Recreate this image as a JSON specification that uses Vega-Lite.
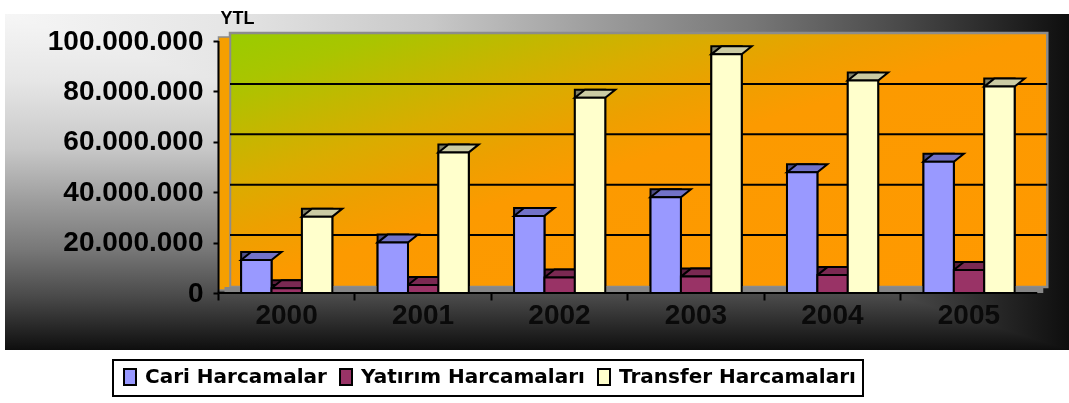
{
  "$schema": "https://vega.github.io/schema/vega-lite/v6.json",
  "width": 1064,
  "height": 336,
  "autosize": {"type": "none"},
  "padding": {"left": 5, "top": 14, "right": 0, "bottom": 53},
  "background": "white",
  "config": {
    "view": {"stroke": null},
    "locale": {"number": {"decimal": ",", "thousands": ".", "grouping": [3], "currency": ["", ""]}},
    "axis": {"zindex": 1},
    "legend": {"strokeWidth": 2}
  },
  "data": {
    "values": [
      {"year": "2000", "series": "Cari Harcamalar", "value": 13100000},
      {"year": "2000", "series": "Yatırım Harcamaları", "value": 1900000},
      {"year": "2000", "series": "Transfer Harcamaları", "value": 30300000},
      {"year": "2001", "series": "Cari Harcamalar", "value": 20000000},
      {"year": "2001", "series": "Yatırım Harcamaları", "value": 3200000},
      {"year": "2001", "series": "Transfer Harcamaları", "value": 55800000},
      {"year": "2002", "series": "Cari Harcamalar", "value": 30600000},
      {"year": "2002", "series": "Yatırım Harcamaları", "value": 6200000},
      {"year": "2002", "series": "Transfer Harcamaları", "value": 77500000},
      {"year": "2003", "series": "Cari Harcamalar", "value": 38000000},
      {"year": "2003", "series": "Yatırım Harcamaları", "value": 6500000},
      {"year": "2003", "series": "Transfer Harcamaları", "value": 94700000},
      {"year": "2004", "series": "Cari Harcamalar", "value": 47900000},
      {"year": "2004", "series": "Yatırım Harcamaları", "value": 7100000},
      {"year": "2004", "series": "Transfer Harcamaları", "value": 84300000},
      {"year": "2005", "series": "Cari Harcamalar", "value": 52100000},
      {"year": "2005", "series": "Yatırım Harcamaları", "value": 9100000},
      {"year": "2005", "series": "Transfer Harcamaları", "value": 81900000}
    ]
  },
  "layer": [
    {
      "data": {"values": [{}]},
      "mark": {"type": "rect", "fill": {"gradient": "linear", "x1": 0, "y1": 0, "x2": 1, "y2": 0, "stops": [
        {"offset": 0, "color": "#f6f6f6"}, {"offset": 0.2, "color": "#e6e6e6"}, {"offset": 0.4, "color": "#c8c8c8"},
        {"offset": 0.56, "color": "#9c9c9c"}, {"offset": 0.7, "color": "#787878"}, {"offset": 0.84, "color": "#4a4a4a"},
        {"offset": 1, "color": "#0e0e0e"}]}},
      "encoding": {"x": {"value": 0}, "x2": {"value": "width"}, "y": {"value": 0}, "y2": {"value": "height"}}
    },
    {
      "data": {"values": [{}]},
      "mark": {"type": "rect", "blend": "darken", "fill": {"gradient": "linear", "x1": 0, "y1": 0, "x2": 0, "y2": 1, "stops": [
        {"offset": 0, "color": "#f6f6f6"}, {"offset": 0.2, "color": "#e6e6e6"}, {"offset": 0.4, "color": "#c8c8c8"},
        {"offset": 0.56, "color": "#9c9c9c"}, {"offset": 0.7, "color": "#787878"}, {"offset": 0.84, "color": "#4a4a4a"},
        {"offset": 1, "color": "#0e0e0e"}]}},
      "encoding": {"x": {"value": 0}, "x2": {"value": "width"}, "y": {"value": 0}, "y2": {"value": "height"}}
    },
    {
      "data": {"values": [{}]},
      "mark": {"type": "rect", "stroke": "#8c8c8c", "strokeWidth": 2.5,
        "xOffset": -2.35, "x2Offset": 23.85, "yOffset": -8, "y2Offset": -6,
        "fill": {"gradient": "linear", "x1": 0, "y1": 0, "x2": 1, "y2": 1, "stops": [
          {"offset": 0, "color": "#99cc00"}, {"offset": 0.1, "color": "#a9c500"}, {"offset": 0.2, "color": "#c2b800"},
          {"offset": 0.3, "color": "#daac00"}, {"offset": 0.4, "color": "#eda000"}, {"offset": 0.5, "color": "#fc9a00"},
          {"offset": 1, "color": "#ff9900"}]}},
      "encoding": {
        "x": {"datum": "2000", "bandPosition": 0},
        "x2": {"datum": "2005", "bandPosition": 1},
        "y": {"datum": 100000000, "type": "quantitative"},
        "y2": {"datum": 0}
      }
    },
    {
      "data": {"values": [{}]},
      "mark": {"type": "rect", "fill": "#f59f00", "stroke": "#8c8c8c", "strokeWidth": 1.5,
        "xOffset": -13.85, "x2Offset": -2.35, "yOffset": -4, "y2Offset": -3},
      "encoding": {
        "x": {"datum": "2000", "bandPosition": 0},
        "x2": {"datum": "2000", "bandPosition": 0},
        "y": {"datum": 100000000, "type": "quantitative"},
        "y2": {"datum": 0}
      }
    },
    {
      "data": {"values": [{"v": 20000000}, {"v": 40000000}, {"v": 60000000}, {"v": 80000000}]},
      "mark": {"type": "rule", "stroke": "black", "strokeWidth": 2, "xOffset": -2.35, "x2Offset": 23.85, "yOffset": -7.5},
      "encoding": {
        "x": {"datum": "2000", "bandPosition": 0},
        "x2": {"datum": "2005", "bandPosition": 1},
        "y": {"field": "v", "type": "quantitative"}
      }
    },
    {
      "data": {"values": [{}]},
      "mark": {"type": "rect", "fill": "#878787", "xOffset": -7.85, "x2Offset": 19.85, "yOffset": -6},
      "encoding": {
        "x": {"datum": "2000", "bandPosition": 0},
        "x2": {"datum": "2005", "bandPosition": 1},
        "y": {"datum": 0, "type": "quantitative"},
        "y2": {"datum": 0}
      }
    },
    {
      "data": {"values": [{}]},
      "mark": {"type": "rule", "stroke": "black", "strokeWidth": 2, "xOffset": -13.85, "x2Offset": 13.85},
      "encoding": {
        "x": {"datum": "2000", "bandPosition": 0},
        "x2": {"datum": "2005", "bandPosition": 1},
        "y": {"datum": 0, "type": "quantitative"}
      }
    },
    {
      "data": {"values": [{}]},
      "mark": {"type": "rule", "stroke": "black", "strokeWidth": 2, "xOffset": -13.85},
      "encoding": {
        "x": {"datum": "2000", "bandPosition": 0},
        "y": {"datum": 0, "type": "quantitative"},
        "y2": {"datum": 100000000}
      }
    },
    {
      "mark": {"type": "bar", "stroke": "black", "strokeWidth": 2, "xOffset": 10, "yOffset": -8, "y2Offset": -8},
      "encoding": {
        "x": {"field": "year", "type": "nominal"},
        "xOffset": {"field": "series", "type": "nominal", "sort": ["Cari Harcamalar", "Yatırım Harcamaları", "Transfer Harcamaları"]},
        "y": {"field": "value", "type": "quantitative"},
        "color": {"field": "series", "type": "nominal", "legend": null,
          "scale": {"domain": ["Cari Harcamalar", "Yatırım Harcamaları", "Transfer Harcamaları"], "range": ["#4f4f88", "#5c1f3e", "#808066"]}}
      }
    },
    {
      "mark": {"type": "point", "filled": true, "opacity": 1, "size": 4, "stroke": "black", "strokeWidth": 2,
        "shape": "M -15.2 0 L 15.2 0 L 25.2 -8 L -5.2 -8 Z"},
      "encoding": {
        "x": {"field": "year", "type": "nominal"},
        "xOffset": {"field": "series", "type": "nominal", "sort": ["Cari Harcamalar", "Yatırım Harcamaları", "Transfer Harcamaları"]},
        "y": {"field": "value", "type": "quantitative"},
        "color": {"field": "series", "type": "nominal", "legend": null,
          "scale": {"domain": ["Cari Harcamalar", "Yatırım Harcamaları", "Transfer Harcamaları"], "range": ["#7272c8", "#7a2952", "#cbcba3"]}}
      }
    },
    {
      "mark": {"type": "bar", "stroke": "black", "strokeWidth": 2},
      "encoding": {
        "x": {"field": "year", "type": "nominal",
          "scale": {"type": "band", "paddingInner": 0.203, "paddingOuter": 1, "align": 0.833, "round": false},
          "axis": {"title": null, "orient": "bottom", "offset": -57, "zindex": 1, "domain": false, "ticks": true, "tickSize": 7,
            "tickColor": "black", "tickWidth": 2, "bandPosition": -0.1273, "labelOffset": 31, "labelFont": "Liberation Sans",
            "labelFontWeight": "bold", "labelFontSize": 28, "labelColor": "#0a0a0a", "labelPadding": 15,
            "labelAngle": 0, "grid": false, "labelOverlap": false, "labelBound": false}},
        "xOffset": {"field": "series", "type": "nominal", "sort": ["Cari Harcamalar", "Yatırım Harcamaları", "Transfer Harcamaları"],
          "scale": {"paddingInner": 0, "paddingOuter": 0.289}},
        "y": {"field": "value", "type": "quantitative",
          "scale": {"domain": [-22619048, 110714286], "nice": false, "zero": false},
          "axis": {"title": "YTL", "titleAngle": 0, "titleX": 19, "titleY": 9, "titleAlign": "center",
            "titleBaseline": "alphabetic", "titleFont": "Liberation Sans", "titleFontSize": 18, "titleFontWeight": "bold",
            "titleColor": "black", "values": [0, 20000000, 40000000, 60000000, 80000000, 100000000], "format": ",.0f",
            "offset": -213, "zindex": 1, "domain": false, "tickSize": 5, "tickColor": "black", "tickWidth": 2,
            "labelFont": "Liberation Sans", "labelFontWeight": "bold", "labelFontSize": 28, "labelColor": "black",
            "labelPadding": 10, "grid": false, "labelOverlap": false, "labelBound": false}},
        "color": {"field": "series", "type": "nominal",
          "scale": {"domain": ["Cari Harcamalar", "Yatırım Harcamaları", "Transfer Harcamaları"], "range": ["#9999ff", "#993366", "#ffffcc"]},
          "legend": {"title": null, "orient": "none", "legendX": 108, "legendY": 346, "direction": "horizontal",
            "fillColor": "white", "strokeColor": "black", "padding": 7,
            "symbolType": "M -0.75 -1 H 0.75 V 1 H -0.75 Z", "symbolSize": 256,
            "symbolStrokeColor": "black", "symbolStrokeWidth": 2, "symbolOpacity": 1,
            "labelFont": "DejaVu Sans", "labelFontWeight": "bold", "labelFontSize": 20, "labelColor": "black",
            "labelOffset": 5, "columnPadding": 9, "labelLimit": 400}}
      }
    }
  ],
  "resolve": {"scale": {"color": "independent"}}
}
